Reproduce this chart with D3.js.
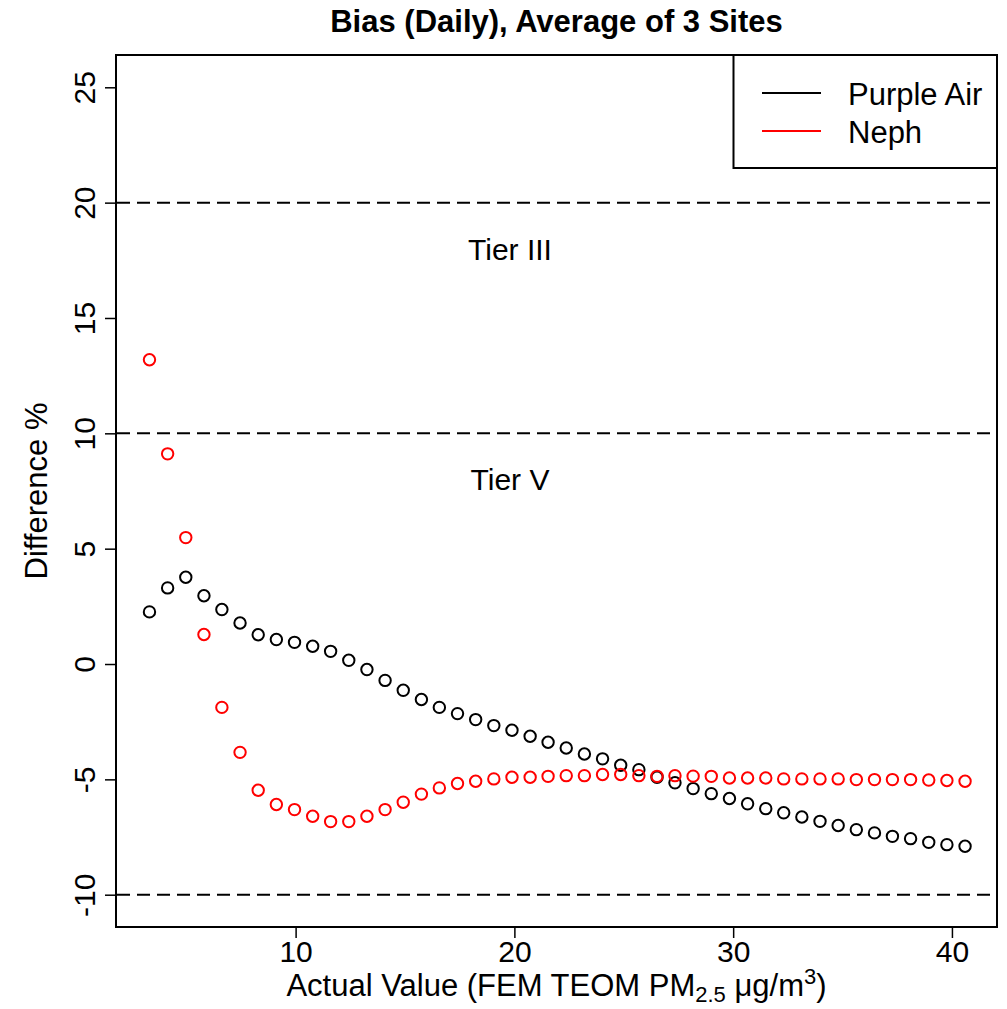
<!DOCTYPE html>
<html>
<head>
<meta charset="utf-8">
<script src="https://cdn.jsdelivr.net/npm/d3@7"></script>
<style>
  html, body { margin: 0; padding: 0; background: #fff; }
  svg { display: block; }
  text { font-family: "Liberation Sans", Arial, sans-serif; fill: #000; }
</style>
</head>
<body>
<svg id="chart" width="1007" height="1009"></svg>
<script>
// ---- data ----
const actualValue = [3.32, 4.15, 4.98, 5.81, 6.63, 7.46, 8.29, 9.12, 9.95, 10.78,
  11.60, 12.43, 13.26, 14.09, 14.92, 15.75, 16.57, 17.40, 18.23, 19.06,
  19.89, 20.72, 21.54, 22.37, 23.20, 24.03, 24.86, 25.69, 26.52, 27.34,
  28.17, 29.00, 29.83, 30.66, 31.49, 32.31, 33.14, 33.97, 34.80, 35.63,
  36.46, 37.28, 38.11, 38.94, 39.77, 40.60];
const purpleAir = [2.26, 3.30, 3.76, 2.96, 2.36, 1.78, 1.27, 1.06, 0.94, 0.77,
  0.55, 0.16, -0.24, -0.71, -1.14, -1.54, -1.88, -2.15, -2.41, -2.67,
  -2.87, -3.13, -3.39, -3.64, -3.90, -4.11, -4.39, -4.58, -4.91, -5.15,
  -5.40, -5.62, -5.83, -6.06, -6.27, -6.45, -6.63, -6.82, -7.00, -7.18,
  -7.32, -7.47, -7.57, -7.73, -7.83, -7.90];
const neph = [13.19, 9.11, 5.48, 1.28, -1.88, -3.83, -5.47, -6.09, -6.31, -6.60,
  -6.83, -6.83, -6.60, -6.31, -5.99, -5.64, -5.37, -5.18, -5.08, -4.98,
  -4.91, -4.91, -4.87, -4.84, -4.84, -4.79, -4.79, -4.84, -4.87, -4.84,
  -4.86, -4.87, -4.94, -4.94, -4.94, -4.98, -4.98, -4.98, -4.98, -5.01,
  -5.01, -5.01, -5.01, -5.03, -5.05, -5.08];
const seriesNames = ["Purple Air", "Neph"];
const seriesColors = ["#000000", "#ff0000"];
const xTicks = [10, 20, 30, 40];
const yTicks = [-10, -5, 0, 5, 10, 15, 20, 25];
const tierLines = [20, 10, -10];
const tierLabels = [{x: 19.8, y: 18, text: "Tier III"}, {x: 19.8, y: 8, text: "Tier V"}];
const titleText = "Bias (Daily), Average of 3 Sites";
const yTitle = "Difference %";

// ---- layout ----
const L = 116, R = 997, T = 55, B = 927;
const FS = 30;
const svg = d3.select("#chart");
const x = d3.scaleLinear().domain([1.79, 42.06]).range([L, R]);
const y = d3.scaleLinear().domain([-11.4, 26.4]).range([B, T]);
const fmt = d => String(d);

// dashed reference lines
svg.append("g").selectAll("line").data(tierLines).join("line")
  .attr("x1", L).attr("x2", R)
  .attr("y1", d => y(d)).attr("y2", d => y(d))
  .attr("stroke", "#000").attr("stroke-width", 2)
  .attr("stroke-dasharray", "13,7").attr("stroke-dashoffset", 19);

// tier labels
svg.append("g").selectAll("text").data(tierLabels).join("text")
  .attr("x", d => x(d.x)).attr("y", d => y(d.y) + 0.36 * FS)
  .attr("text-anchor", "middle").attr("font-size", FS)
  .text(d => d.text);

// points
const series = [purpleAir, neph];
series.forEach((vals, si) => {
  svg.append("g").selectAll("circle").data(vals).join("circle")
    .attr("cx", (d, i) => x(actualValue[i]))
    .attr("cy", d => y(d))
    .attr("r", 5.7)
    .attr("fill", "none")
    .attr("stroke", seriesColors[si])
    .attr("stroke-width", 2);
});

// axes
const xAxis = svg.append("g").attr("transform", `translate(0,${B})`)
  .call(d3.axisBottom(x).tickValues(xTicks).tickSize(11).tickPadding(0).tickFormat(fmt));
xAxis.select(".domain").remove();
xAxis.selectAll(".tick line").attr("stroke-width", 1.5);
xAxis.selectAll(".tick text").attr("font-size", FS).attr("dy", null)
  .attr("y", 35).attr("font-family", '"Liberation Sans", Arial, sans-serif');

const yAxis = svg.append("g").attr("transform", `translate(${L},0)`)
  .call(d3.axisLeft(y).tickValues(yTicks).tickSize(11).tickFormat(fmt));
yAxis.select(".domain").remove();
yAxis.selectAll(".tick line").attr("stroke-width", 1.5);
yAxis.selectAll(".tick text")
  .attr("x", null).attr("dy", null)
  .attr("text-anchor", "middle")
  .attr("transform", "translate(-21,0) rotate(-90)")
  .attr("font-size", FS).attr("font-family", '"Liberation Sans", Arial, sans-serif');

// plot box
svg.append("rect").attr("x", L).attr("y", T).attr("width", R - L).attr("height", B - T)
  .attr("fill", "none").attr("stroke", "#000").attr("stroke-width", 2);

// title
svg.append("text").attr("x", (L + R) / 2).attr("y", 32)
  .attr("text-anchor", "middle").attr("font-size", 31).attr("font-weight", "bold")
  .text(titleText);

// x axis title
const xt = svg.append("text").attr("x", (L + R) / 2).attr("y", 996)
  .attr("text-anchor", "middle").attr("font-size", FS + 1);
xt.append("tspan").text("Actual Value (FEM TEOM PM");
xt.append("tspan").attr("font-size", 22).attr("dy", 6).text("2.5");
xt.append("tspan").attr("dy", -6).text(" \u03BCg/m");
xt.append("tspan").attr("font-size", 22).attr("dy", -12).text("3");
xt.append("tspan").attr("dy", 12).text(")");

// y axis title
svg.append("text").attr("transform", `translate(47,${(T + B) / 2}) rotate(-90)`)
  .attr("text-anchor", "middle").attr("font-size", FS + 1)
  .text(yTitle);

// legend
const lg = svg.append("g");
lg.append("rect").attr("x", 733.5).attr("y", T).attr("width", R - 733.5).attr("height", 113)
  .attr("fill", "#fff").attr("stroke", "#000").attr("stroke-width", 2);
seriesNames.forEach((name, i) => {
  const ly = 93 + i * 38;
  lg.append("line").attr("x1", 762).attr("x2", 821).attr("y1", ly).attr("y2", ly)
    .attr("stroke", seriesColors[i]).attr("stroke-width", 2);
  lg.append("text").attr("x", 848).attr("y", ly + 12).attr("font-size", FS + 1).text(name);
});
</script>
</body>
</html>
